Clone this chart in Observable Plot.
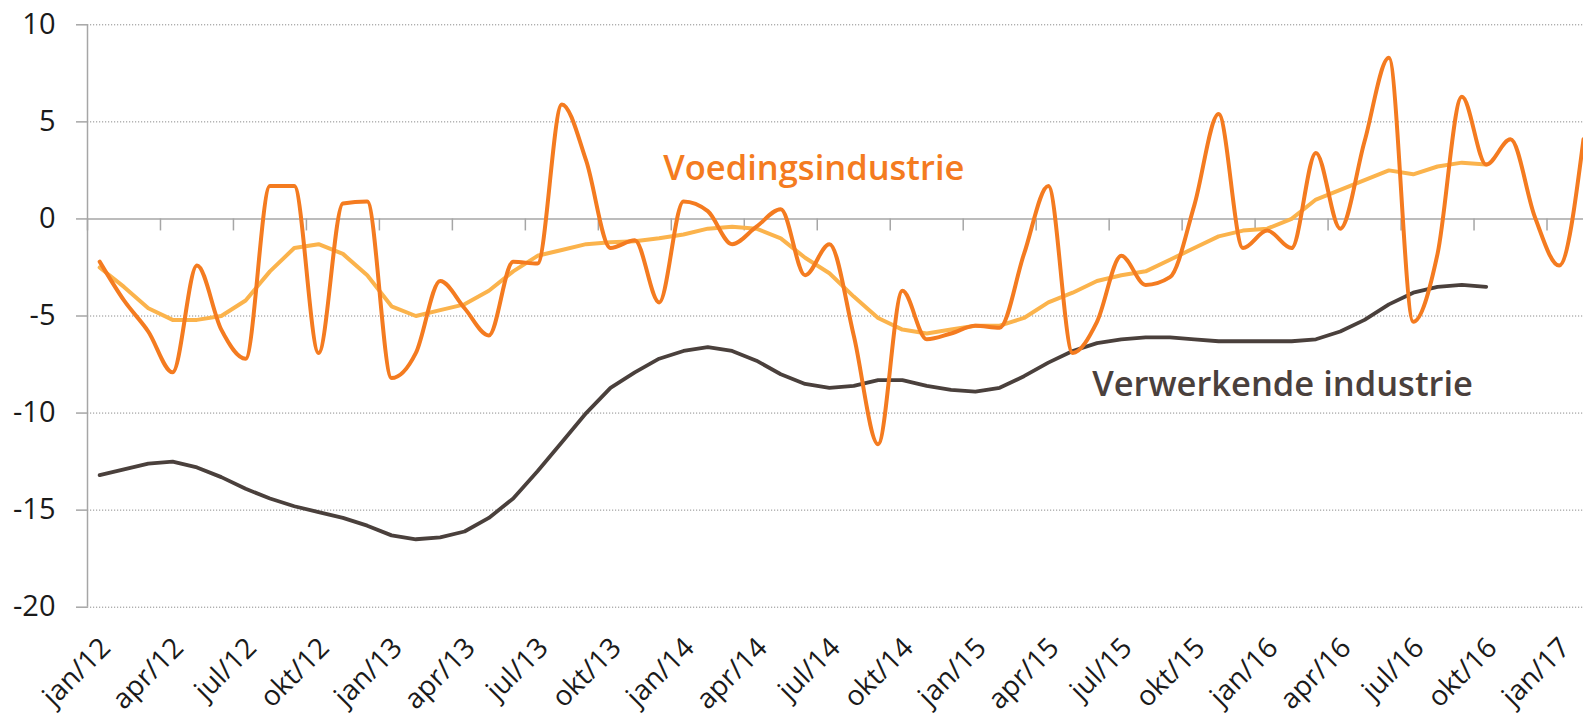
<!DOCTYPE html>
<html><head><meta charset="utf-8">
<script src="https://cdn.jsdelivr.net/npm/d3@7"></script>
<script src="https://cdn.jsdelivr.net/npm/@observablehq/plot@0.6"></script>
<style>
html,body{margin:0;padding:0;background:#fff;overflow:hidden;}
</style></head><body><div id="chart"></div>
<script>
// ---- data ----
const monthNames = ["jan","feb","mrt","apr","mei","jun","jul","aug","sep","okt","nov","dec"];
const months = d3.range(62).map(i => monthNames[i % 12] + "/" + (12 + Math.floor(i / 12)));

// Voedingsindustrie (monthly, jan/12 .. feb/17)
const voeding = [
  -2.2, -4.2, -5.8, -7.9, -2.4, -5.7, -7.2, 1.7, 1.7, -6.9, 0.8, 0.9,
  -8.2, -6.9, -3.2, -4.6, -6.0, -2.2, -2.3, 5.9, 3.0, -1.5, -1.1, -4.3,
  0.9, 0.4, -1.3, -0.4, 0.5, -2.9, -1.3, -6.0, -11.6, -3.7, -6.2, -5.9,
  -5.5, -5.6, -1.8, 1.7, -6.9, -5.3, -1.9, -3.4, -3.0, 0.7, 5.4, -1.5,
  -0.6, -1.5, 3.4, -0.5, 4.0, 8.3, -5.3, -1.8, 6.3, 2.8, 4.1, 0.1,
  -2.4, 4.1
];
// Voedingsindustrie trend (jan/12 .. okt/16)
const voedingTrend = [
  -2.5, -3.5, -4.6, -5.2, -5.2, -5.0, -4.2, -2.7, -1.5, -1.3, -1.8, -2.9,
  -4.5, -5.0, -4.7, -4.4, -3.7, -2.7, -1.9, -1.6, -1.3, -1.2, -1.15, -1.0,
  -0.8, -0.5, -0.4, -0.5, -1.0, -2.0, -2.8, -4.0, -5.1, -5.7, -5.9, -5.7,
  -5.5, -5.5, -5.1, -4.3, -3.8, -3.2, -2.9, -2.7, -2.1, -1.5, -0.9, -0.6,
  -0.5, 0.0, 1.0, 1.5, 2.0, 2.5, 2.3, 2.7, 2.9, 2.8
];
// Verwerkende industrie (jan/12 .. okt/16)
const verwerkend = [
  -13.2, -12.9, -12.6, -12.5, -12.8, -13.3, -13.9, -14.4, -14.8, -15.1, -15.4, -15.8,
  -16.3, -16.5, -16.4, -16.1, -15.4, -14.4, -13.0, -11.5, -10.0, -8.7, -7.9, -7.2,
  -6.8, -6.6, -6.8, -7.3, -8.0, -8.5, -8.7, -8.6, -8.3, -8.3, -8.6, -8.8,
  -8.9, -8.7, -8.1, -7.4, -6.8, -6.4, -6.2, -6.1, -6.1, -6.2, -6.3, -6.3,
  -6.3, -6.3, -6.2, -5.8, -5.2, -4.4, -3.8, -3.5, -3.4, -3.5
];
const yTicks = [10, 5, 0, -5, -10, -15, -20];
const gridValues = [10, 5, -5, -10, -15, -20];
const seriesLabels = ["Voedingsindustrie", "Verwerkende industrie"];
const colors = { voeding: "#F47B20", trend: "#FBB34C", verwerkend: "#4A403C" };

// ---- layout ----
const W = 1583, H = 721;
const mTop = 24.3, mBottom = H - 606.7, mLeft = 87;
const pxPerUnit = (H - mBottom - mTop) / 30;
const xTickPos = d3.range(0, 61, 3);              // category boundaries every quarter
const xLabelPos = d3.range(0, 61, 3).map(i => i + 0.5); // category centres

const pts = arr => arr.map((v, i) => ({ x: i + 0.5, y: v }));

const chart = Plot.plot({
  width: W, height: H,
  marginLeft: mLeft, marginRight: 0, marginTop: mTop, marginBottom: mBottom,
  x: { type: "linear", domain: [0, 61.5], axis: null, label: null },
  y: { domain: [-20, 10], axis: null, label: null },
  style: { fontFamily: "'Open Sans', sans-serif", background: "white", overflow: "hidden" },
  marks: [
    Plot.ruleY(gridValues, { stroke: "#8c8c8c", strokeWidth: 1, strokeDasharray: "1.2,1.8" }),
    Plot.ruleY([0], { stroke: "#a6a6a6", strokeWidth: 1.5 }),
    Plot.ruleX([0], { y1: -20, y2: 10, stroke: "#a6a6a6", strokeWidth: 1.5 }),
    Plot.ruleX(xTickPos, { y1: 0, y2: -12 / pxPerUnit, stroke: "#a6a6a6", strokeWidth: 1.5 }),
    Plot.axisY({ ticks: yTicks, label: null, tickSize: 11, tickPadding: 21, fontSize: 29, stroke: "#a6a6a6", strokeWidth: 1.5, fill: "#1a1a1a", tickFormat: d => String(d) }),
    Plot.axisX({ ticks: xLabelPos, label: null, tickFormat: d => months[Math.round(d - 0.5)], tickRotate: -45, tickSize: 0, tickPadding: 36, dx: 6, fontSize: 28, fill: "#1a1a1a", anchor: "bottom" }),
    Plot.line(pts(verwerkend), { x: "x", y: "y", stroke: colors.verwerkend, strokeWidth: 3.8 }),
    Plot.line(pts(voedingTrend), { x: "x", y: "y", stroke: colors.trend, strokeWidth: 4 }),
    Plot.line(pts(voeding), { x: "x", y: "y", stroke: colors.voeding, strokeWidth: 4, curve: "monotone-x" }),
    Plot.text([seriesLabels[0]], { x: 23.67, y: 2.0, text: d => d, textAnchor: "start", lineAnchor: "bottom", fill: colors.voeding, fontSize: 34.5, fontWeight: 600 }),
    Plot.text([seriesLabels[1]], { x: 41.3, y: -9.1, text: d => d, textAnchor: "start", lineAnchor: "bottom", fill: colors.verwerkend, fontSize: 34.5, fontWeight: 600 })
  ]
});
document.getElementById("chart").appendChild(chart);
</script></body></html>
